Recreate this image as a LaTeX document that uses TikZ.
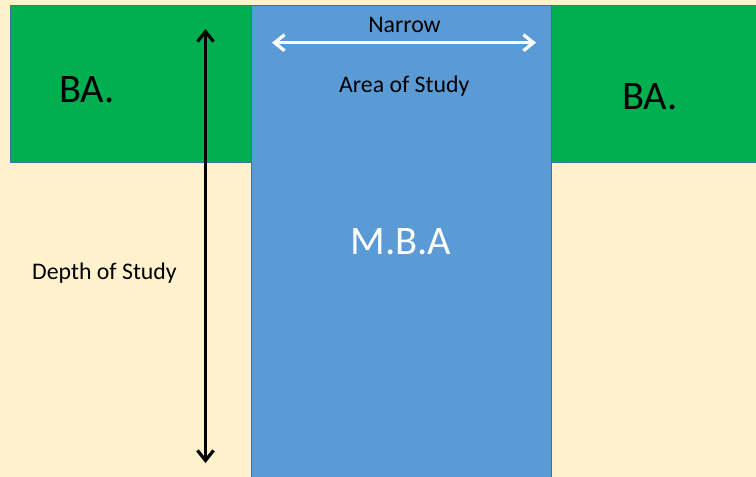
\documentclass[tikz,border=0pt]{standalone}
\usepackage{fontspec}
\setmainfont{Carlito}
\usetikzlibrary{arrows.meta}
\definecolor{cream}{HTML}{FFF2CC}
\definecolor{bagreen}{HTML}{00B050}
\definecolor{mbablue}{HTML}{5B9BD5}
\definecolor{edgeblue}{HTML}{41719C}
\tikzset{
  block/.style={draw=edgeblue, line width=0.9pt, inner sep=0pt, outer sep=0pt},
  lbl/.style={anchor=base, inner sep=0pt, font=\fontsize{23.8}{26}\selectfont},
  big/.style={anchor=base, inner sep=0pt, font=\fontsize{40.5}{44}\selectfont},
  dbl/.style={line width=3.2pt, {Straight Barb[length=10pt,width=16pt,line width=3.2pt]}-{Straight Barb[length=10pt,width=16pt,line width=3.2pt]}}
}
\begin{document}
\begin{tikzpicture}[x=1pt,y=-1pt]
\fill[cream] (0,0) rectangle (756,477);
\useasboundingbox (0,0) rectangle (756,477);
\filldraw[block, fill=bagreen] (10,5) rectangle (251,162.5);
\filldraw[block, fill=bagreen] (551,5) rectangle (760,162.5);
\filldraw[block, fill=mbablue] (251,5) rectangle (551,482);
\node[big] (ba1) at (87,102.7) {BA.};
\node[big] (ba2) at (650,109.3) {BA.};
\node[big, text=white] (mba) at (401,254) {M.B.A};
\node[lbl] (narrow) at (404.5,32.7) {Narrow};
\node[lbl] (area) at (404.3,92.7) {Area of Study};
\node[lbl] (depth) at (104.5,279) {Depth of Study};
\coordinate (vt) at (205.5,29);
\coordinate (vb) at (205.5,463);
\coordinate (hl) at (272,42.7);
\coordinate (hr) at (536,42.7);
\draw[dbl, black] (vt) -- (vb);
\draw[dbl, white] (hl) -- (hr);
\end{tikzpicture}
\end{document}
